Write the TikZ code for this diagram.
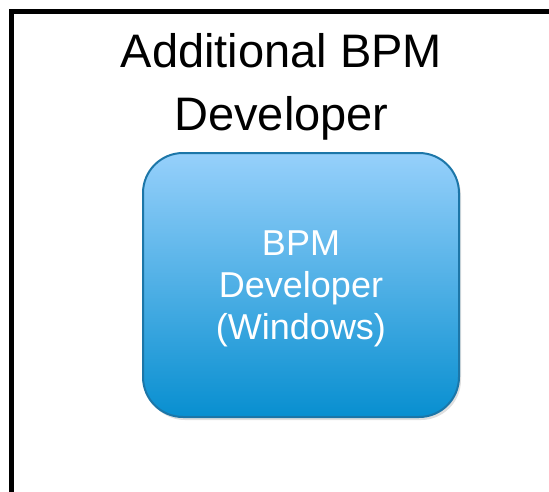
\documentclass[tikz,border=0pt]{standalone}
\usepackage{fontspec}
\setmainfont{Liberation Sans}
\usetikzlibrary{positioning,shadows}
\definecolor{boxtop}{RGB}{150,208,251}
\definecolor{boxbottom}{RGB}{8,143,208}
\definecolor{boxline}{RGB}{28,118,168}

\begin{document}
\begin{tikzpicture}[
    x=1pt,y=-1pt,
    frame/.style={draw,line width=5pt,minimum width=540pt,minimum height=484pt,inner sep=0pt,outer sep=0pt},
    heading/.style={align=center,inner sep=0pt,font=\fontsize{47}{63}\selectfont},
    devbox/.style={draw=boxline,line width=2pt,rounded corners=40pt,top color=boxtop,bottom color=boxbottom,
        minimum width=316pt,minimum height=264pt,align=center,text=white,font=\fontsize{36}{42}\selectfont,
        drop shadow={opacity=0.25,shadow xshift=2pt,shadow yshift=-3pt}}
]
\clip (0,0) rectangle (549,491);
\node[frame] (outer) at (281,253) {};
\node[heading,anchor=north] (title) at (281.5,33) {Additional BPM\\Developer};
% text sits a little low in the box
\node[devbox] (dev) at (301,285) {\raisebox{-4pt}[\height][\depth]{\begin{tabular}{@{}c@{}}BPM\\Developer\\(Windows)\end{tabular}}};
\end{tikzpicture}
\end{document}
